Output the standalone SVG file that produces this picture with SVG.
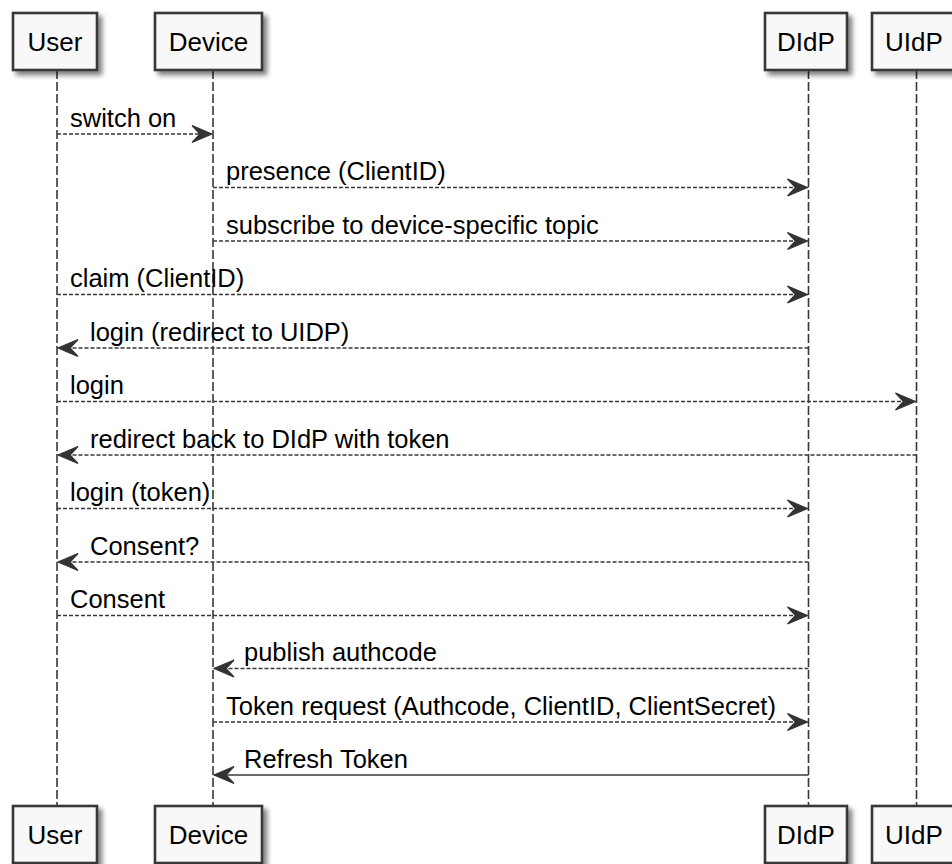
<svg xmlns="http://www.w3.org/2000/svg" width="952" height="864" viewBox="0 0 952 864">
  <style>
    .lifeline { stroke: #383838; stroke-width: 1.6; stroke-dasharray: 9,3; fill: none; }
    .box { fill: #F8F8F8; stroke: #383838; stroke-width: 2.6; filter: url(#shadow); }
    .name { font-family: "Liberation Sans", Arial, sans-serif; font-size: 26px; fill: #000; text-anchor: middle; }
    .msg { stroke: #383838; stroke-width: 1.6; fill: none; stroke-dasharray: 4,2; marker-end: url(#head); }
    .msg.solid { stroke-dasharray: none; }
    .label { font-family: "Liberation Sans", Arial, sans-serif; font-size: 25.5px; fill: #000; }
  </style>
  <defs>
    <filter id="shadow" x="-20%" y="-20%" width="150%" height="160%">
      <feGaussianBlur in="SourceAlpha" stdDeviation="2.5"/>
      <feOffset dx="4" dy="4" result="off"/>
      <feComponentTransfer><feFuncA type="linear" slope="0.5"/></feComponentTransfer>
      <feMerge><feMergeNode/><feMergeNode in="SourceGraphic"/></feMerge>
    </filter>
    <marker id="head" viewBox="-22 -10 24 20" refX="0" refY="0" markerWidth="24" markerHeight="20" markerUnits="userSpaceOnUse" orient="auto">
      <path d="M0,0 L-20,-8.5 L-12,0 L-20,8.5 Z" fill="#333333" stroke="#333333" stroke-width="1.2" stroke-linejoin="miter"/>
    </marker>
  </defs>
  <rect width="952" height="864" fill="#FFFFFF"/>

  <!-- lifelines -->
  <g id="lifelines">
    <line class="lifeline" x1="57" y1="70" x2="57" y2="806"/>
    <line class="lifeline" x1="213" y1="70" x2="213" y2="806"/>
    <line class="lifeline" x1="808.5" y1="70" x2="808.5" y2="806"/>
    <line class="lifeline" x1="916.5" y1="70" x2="916.5" y2="806"/>
  </g>

  <!-- participants -->
  <g id="user">
    <rect class="box" x="13" y="13" width="84" height="57"/>
    <text class="name" x="55" y="51">User</text>
    <rect class="box" x="13" y="806" width="84" height="57"/>
    <text class="name" x="55" y="844">User</text>
  </g>
  <g id="device">
    <rect class="box" x="155" y="13" width="107" height="57"/>
    <text class="name" x="208.5" y="51">Device</text>
    <rect class="box" x="155" y="806" width="107" height="57"/>
    <text class="name" x="208.5" y="844">Device</text>
  </g>
  <g id="didp">
    <rect class="box" x="765" y="13" width="82" height="57"/>
    <text class="name" x="806" y="51">DIdP</text>
    <rect class="box" x="765" y="806" width="82" height="57"/>
    <text class="name" x="806" y="844">DIdP</text>
  </g>
  <g id="uidp">
    <rect class="box" x="872" y="13" width="86" height="57"/>
    <text class="name" x="914" y="51">UIdP</text>
    <rect class="box" x="872" y="806" width="86" height="57"/>
    <text class="name" x="914" y="844">UIdP</text>
  </g>

  <!-- messages -->
  <g id="connectors">
    <line class="msg" x1="57" y1="134" x2="212" y2="134"/>
    <line class="msg" x1="213" y1="187.5" x2="807.5" y2="187.5"/>
    <line class="msg" x1="213" y1="241" x2="807.5" y2="241"/>
    <line class="msg" x1="57" y1="294.5" x2="807.5" y2="294.5"/>
    <line class="msg" x1="808.5" y1="348" x2="58" y2="348"/>
    <line class="msg" x1="57" y1="401.5" x2="915.5" y2="401.5"/>
    <line class="msg" x1="916.5" y1="455" x2="58" y2="455"/>
    <line class="msg" x1="57" y1="508.5" x2="807.5" y2="508.5"/>
    <line class="msg" x1="808.5" y1="562" x2="58" y2="562"/>
    <line class="msg" x1="57" y1="615.5" x2="807.5" y2="615.5"/>
    <line class="msg" x1="808.5" y1="668.5" x2="214" y2="668.5"/>
    <line class="msg" x1="213" y1="722" x2="807.5" y2="722"/>
    <line class="msg solid" x1="808.5" y1="775" x2="214" y2="775"/>
  </g>

  <g id="labels">
    <text class="label" x="70" y="126.5">switch on</text>
    <text class="label" x="226" y="180">presence (ClientID)</text>
    <text class="label" x="226" y="233.5">subscribe to device-specific topic</text>
    <text class="label" x="70" y="287">claim (ClientID)</text>
    <text class="label" x="90" y="340.5">login (redirect to UIDP)</text>
    <text class="label" x="70" y="394">login</text>
    <text class="label" x="90" y="447.5">redirect back to DIdP with token</text>
    <text class="label" x="70" y="501">login (token)</text>
    <text class="label" x="90" y="554.5">Consent?</text>
    <text class="label" x="70" y="608">Consent</text>
    <text class="label" x="244" y="661">publish authcode</text>
    <text class="label" x="226" y="714.5">Token request (Authcode, ClientID, ClientSecret)</text>
    <text class="label" x="244" y="767.5">Refresh Token</text>
  </g>
</svg>
